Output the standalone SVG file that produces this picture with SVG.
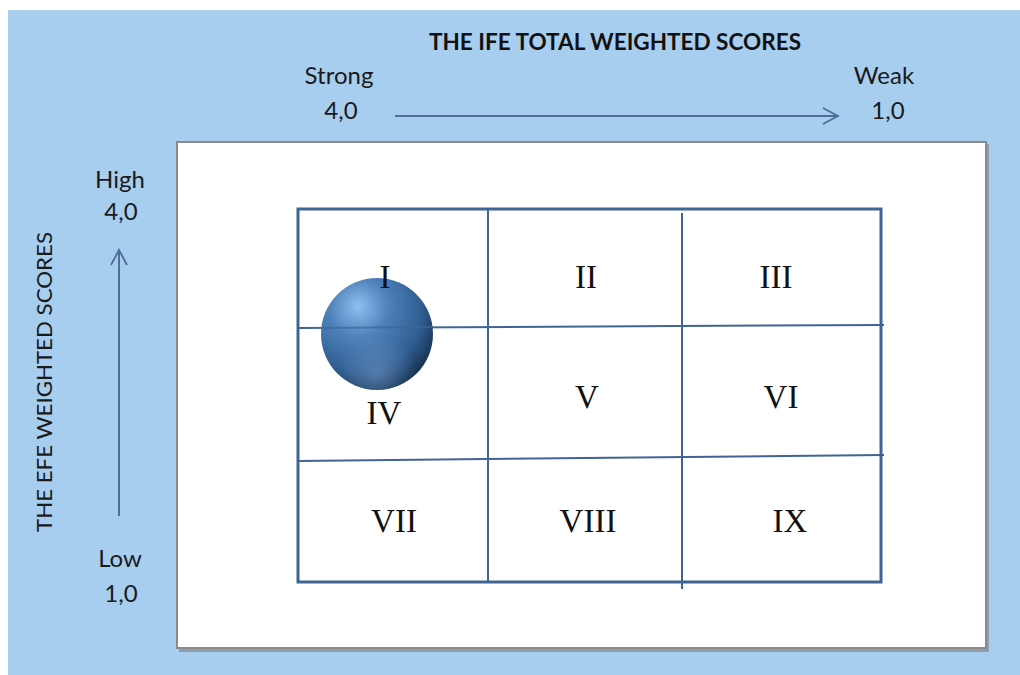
<svg xmlns="http://www.w3.org/2000/svg" width="1020" height="675" viewBox="0 0 1020 675">
<style>
.lbl{font-family:Lato,"Open Sans",sans-serif;font-size:24px;fill:#1a1a1a;text-anchor:middle}
.roman{font-family:"Liberation Serif",serif;font-size:33px;fill:#111;text-anchor:middle}
.grid{stroke:#3f6595;stroke-width:2;fill:none}
.axis{stroke:#4d6f97;stroke-width:2;fill:none}
</style>
<defs>
<marker id="chev" viewBox="0 0 20 20" refX="17" refY="10" markerWidth="20" markerHeight="20" markerUnits="userSpaceOnUse" orient="auto">
<path d="M2,2 L17,10 L2,18" fill="none" stroke="#4d6f97" stroke-width="1.8"/>
</marker>
<radialGradient id="ball" cx="0.35" cy="0.3" r="0.75" fx="0.33" fy="0.25">
<stop offset="0" stop-color="#8fc0f0"/>
<stop offset="0.35" stop-color="#4f82bb"/>
<stop offset="0.75" stop-color="#2f5d91"/>
<stop offset="1" stop-color="#15304f"/>
</radialGradient>
<radialGradient id="sheen" cx="0.5" cy="0.85" r="0.35">
<stop offset="0" stop-color="#7a9cc6" stop-opacity="0.5"/>
<stop offset="1" stop-color="#7a9cc6" stop-opacity="0"/>
</radialGradient>
</defs>
<rect x="8" y="10" width="1012" height="665" fill="#a7cdef"/>
<g id="plot-frame">
<rect x="179" y="144" width="810" height="508" fill="#7d7d7d" opacity="0.6"/>
<rect x="177" y="142" width="809" height="506" fill="#ffffff" stroke="#8a8a8a" stroke-width="2"/>
</g>
<g id="title">
<text x="615" y="50" font-family="Lato,'Open Sans',sans-serif" font-size="22" font-weight="bold" fill="#111" text-anchor="middle" textLength="372" lengthAdjust="spacingAndGlyphs">THE IFE TOTAL WEIGHTED SCORES</text>
</g>
<g id="x-labels">
<text class="lbl" x="339" y="84">Strong</text>
<text class="lbl" x="341" y="119">4,0</text>
<text class="lbl" x="884" y="84">Weak</text>
<text class="lbl" x="888" y="119">1,0</text>
</g>
<g id="y-labels">
<text class="lbl" x="120" y="188">High</text>
<text class="lbl" x="121" y="220">4,0</text>
<text class="lbl" x="120" y="567">Low</text>
<text class="lbl" x="121" y="602">1,0</text>
<text x="0" y="0" transform="translate(52,382) rotate(-90)" font-family="Lato,'Open Sans',sans-serif" font-size="22" fill="#1a1a1a" text-anchor="middle" textLength="300" lengthAdjust="spacingAndGlyphs">THE EFE WEIGHTED SCORES</text>
</g>
<g id="connectors">
<line class="axis" x1="395" y1="116" x2="838" y2="116" marker-end="url(#chev)"/>
<line class="axis" x1="119" y1="516" x2="119" y2="250" marker-end="url(#chev)"/>
</g>
<g id="grid">
<rect x="298" y="209" width="583" height="373" fill="none" stroke="#3f6595" stroke-width="3"/>
<line class="grid" x1="488" y1="209" x2="488" y2="582"/>
<line class="grid" x1="682" y1="213" x2="682" y2="589"/>
<line class="grid" x1="298" y1="328" x2="884" y2="325"/>
<line class="grid" x1="298" y1="461" x2="884" y2="455"/>
</g>
<g id="ball-marker">
<circle cx="377" cy="334" r="56" fill="url(#ball)"/>
<circle cx="377" cy="334" r="56" fill="url(#sheen)"/>
<line x1="322" y1="328" x2="432" y2="327" stroke="#3f6595" stroke-width="2" opacity="0.7"/>
</g>
<g id="cells">
<text class="roman" x="385" y="288">I</text>
<text class="roman" x="586" y="288">II</text>
<text class="roman" x="776" y="288">III</text>
<text class="roman" x="384" y="424">IV</text>
<text class="roman" x="587" y="408">V</text>
<text class="roman" x="781" y="408">VI</text>
<text class="roman" x="394" y="532">VII</text>
<text class="roman" x="588" y="532">VIII</text>
<text class="roman" x="790" y="532">IX</text>
</g>
</svg>
